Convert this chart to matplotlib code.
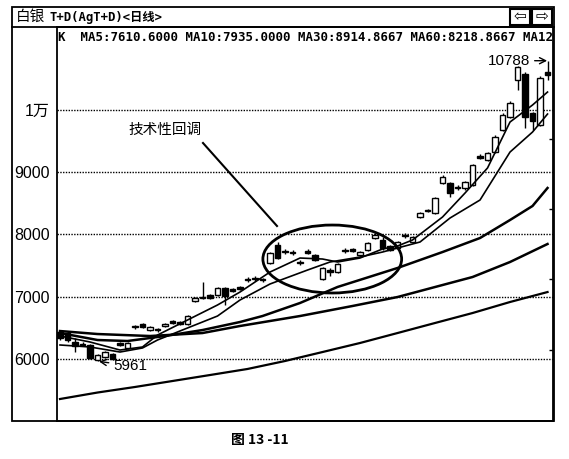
import matplotlib
matplotlib.use('Agg')
import matplotlib.pyplot as plt
from matplotlib.patches import Ellipse, Rectangle
from matplotlib.lines import Line2D

# ---------------- data ----------------
opens  = [6433, 6417, 6273, 6241, 6225, 5984, 6032, 6080, 6257, 6176,
          6514, 6562, 6465, 6465, 6530, 6610, 6594, 6562, 6931, 6979,
          7027, 7027, 7140, 7124, 7156, 7268, 7284, 7268, 7541, 7830,
          7717, 7701, 7541, 7733, 7669, 7284, 7428, 7396, 7733, 7766,
          7669, 7750, 7942, 7910, 7814, 7782, 7974, 7878, 8279, 8375,
          8343, 8825, 8825, 8744, 8744, 8793, 9258, 9194, 9322, 9675,
          9884, 10478, 10574, 9948, 9756, 10607]
highs  = [6465, 6449, 6337, 6273, 6241, 6080, 6128, 6096, 6273, 6273,
          6546, 6578, 6530, 6498, 6578, 6626, 6610, 6706, 6995, 7236,
          7043, 7156, 7156, 7140, 7172, 7316, 7332, 7300, 7717, 7878,
          7766, 7750, 7589, 7766, 7685, 7476, 7460, 7541, 7782, 7782,
          7733, 7878, 8022, 7958, 7830, 7894, 8022, 7974, 8359, 8407,
          8600, 8953, 8841, 8793, 8857, 9130, 9290, 9322, 9595, 9948,
          10141, 10703, 10606, 9964, 10542, 10788]
lows   = [6305, 6273, 6112, 6209, 6000, 5961, 6016, 5984, 6209, 6160,
          6482, 6498, 6449, 6433, 6514, 6562, 6546, 6546, 6915, 6963,
          6963, 7011, 6867, 7075, 7107, 7236, 7252, 7236, 7525, 7605,
          7685, 7669, 7509, 7685, 7573, 7268, 7332, 7380, 7701, 7717,
          7653, 7733, 7926, 7750, 7733, 7766, 7942, 7862, 8263, 8359,
          8327, 8809, 8600, 8712, 8712, 8777, 9210, 9178, 9306, 9659,
          9868, 10317, 9707, 9675, 9740, 10478]
closes = [6337, 6305, 6209, 6225, 6016, 6064, 6112, 6000, 6225, 6257,
          6530, 6514, 6514, 6482, 6562, 6578, 6562, 6690, 6979, 6995,
          6979, 7140, 7011, 7091, 7124, 7284, 7300, 7284, 7701, 7621,
          7733, 7717, 7557, 7701, 7589, 7460, 7396, 7525, 7750, 7733,
          7717, 7862, 7990, 7782, 7750, 7878, 7990, 7958, 8343, 8391,
          8584, 8921, 8664, 8760, 8841, 9114, 9226, 9306, 9563, 9916,
          10109, 10687, 9884, 9820, 10510, 10558]

ma5_idx = [0, 4, 8, 11, 13, 17, 21, 24, 28, 32, 35, 37, 40, 43, 45, 47, 51, 54, 57, 60, 63, 65]
ma5_val = [6369, 6273, 6144, 6193, 6385, 6626, 6867, 7075, 7396, 7621, 7605, 7557, 7621, 7766,
           7814, 7910, 8279, 8664, 9066, 9804, 10077, 10285]
ma10_idx = [0, 4, 8, 11, 13, 17, 21, 24, 28, 33, 36, 40, 43, 45, 48, 52, 56, 60, 63, 65]
ma10_val = [6225, 6193, 6112, 6177, 6305, 6498, 6690, 6947, 7204, 7428, 7557, 7637, 7717, 7782,
            7878, 8263, 8552, 9322, 9643, 9932]
ma30_idx = [0, 5, 9, 14, 19, 24, 27, 32, 37, 45, 51, 56, 60, 63, 65]
ma30_val = [6417, 6305, 6289, 6369, 6465, 6594, 6690, 6899, 7156, 7461, 7717, 7942, 8231, 8456, 8745]
ma60_idx = [0, 5, 12, 19, 24, 32, 39, 45, 55, 60, 65]
ma60_val = [6449, 6401, 6369, 6417, 6530, 6690, 6851, 6995, 7316, 7557, 7846]
ma120_idx = [0, 5, 10, 15, 20, 25, 30, 35, 40, 45, 50, 55, 60, 65]
ma120_val = [5358, 5462, 5551, 5647, 5743, 5840, 5968, 6112, 6257, 6417, 6578, 6738, 6915, 7075]

ytick_vals = [6000, 7000, 8000, 9000, 10000]
ytick_labels = ['6000', '7000', '8000', '9000', '1万']
right_ticks = [6144, 7284, 8408, 9531]

low_label = '5961'
high_label = '10788'
title_cn = '白银'
title_code = 'T+D(AgT+D)<日线>'
header = 'K  MA5:7610.6000 MA10:7935.0000 MA30:8914.8667 MA60:8218.8667 MA12'
note = '技术性回调'
caption = '图 13 -11'

# ---------------- figure ----------------
W, H = 569, 459
fig = plt.figure(figsize=(W / 100, H / 100), dpi=100)
fig.patch.set_facecolor('white')


def fx(x):
    return x / W


def fy(y):
    return 1 - y / H


ax = fig.add_axes([fx(57), fy(421), (553 - 57) / W, (421 - 27) / H])
ax.set_xlim(-0.4, 65.73)
ax.set_ylim(5005, 11329)
for s in ax.spines.values():
    s.set_linewidth(1.3)
    s.set_color('black')

# grid
for v in ytick_vals:
    ax.axhline(v, color='black', lw=1.0, ls=(0, (1, 1)), zorder=0)

ax.set_xticks([])
ax.set_yticks(ytick_vals)
ax.set_yticklabels(ytick_labels, fontsize=11.5, family=['Liberation Sans', 'Noto Sans CJK SC'])
ax.tick_params(axis='y', length=0, pad=5)

ax2 = ax.twinx()
ax2.set_ylim(ax.get_ylim())
ax2.set_yticks(right_ticks)
ax2.set_yticklabels([])
ax2.tick_params(axis='y', direction='in', length=3, width=1)
for s in ax2.spines.values():
    s.set_visible(False)

# candles
for i in range(len(opens)):
    o, h, l, c = opens[i], highs[i], lows[i], closes[i]
    up = c >= o
    ax.vlines(i, l, h, color='black', lw=1.0, zorder=2)
    bot = min(o, c)
    hgt = max(abs(c - o), 12)
    ax.bar(i, hgt, bottom=bot, width=0.68, facecolor='white' if up else 'black',
           edgecolor='black', lw=1.0, zorder=3)

# moving averages
ax.plot(ma5_idx, ma5_val, color='black', lw=1.2, zorder=4)
ax.plot(ma10_idx, ma10_val, color='black', lw=1.2, zorder=4)
ax.plot(ma30_idx, ma30_val, color='black', lw=1.8, zorder=4)
ax.plot(ma60_idx, ma60_val, color='black', lw=1.8, zorder=4)
ax.plot(ma120_idx, ma120_val, color='black', lw=1.6, zorder=4)

# ellipse
ax.add_patch(Ellipse((36.3, 7605), 18.5, 1091, fill=False, lw=2.0, ec='black', zorder=5))

# header row
ax.text(0.002, 0.9746, header, transform=ax.transAxes, fontsize=8.9, fontweight='bold',
        family=['DejaVu Sans Mono'], va='center', ha='left')

# annotations
imax = highs.index(max(highs))
ax.annotate(high_label, xy=(imax - 0.05, max(highs)), xytext=(-12, 0), textcoords='offset points',
            ha='right', va='center', fontsize=11, family='Liberation Sans',
            arrowprops=dict(arrowstyle='->', lw=1.0, color='black', shrinkA=1, shrinkB=0))
imin = lows.index(min(lows))
ax.annotate(low_label, xy=(imin + 0.2, min(lows)), xytext=(10, -3), textcoords='offset points',
            ha='left', va='center', fontsize=11, family='Liberation Sans',
            arrowprops=dict(arrowstyle='->', lw=1.0, color='black', shrinkA=1, shrinkB=0))

fig.text(fx(128), fy(130), note, fontsize=10.5, family='Noto Sans CJK SC', va='center', ha='left')
fig.add_artist(Line2D([fx(203), fx(277)], [fy(143), fy(226)], transform=fig.transFigure,
                      color='black', lw=1.5))

# window frame
fig.add_artist(Rectangle((fx(12), fy(421)), (554 - 12) / W, (421 - 7) / H, transform=fig.transFigure,
                         fill=False, lw=1.3, ec='black'))
fig.add_artist(Line2D([fx(12), fx(554)], [fy(27), fy(27)], transform=fig.transFigure, color='black', lw=1.3))

fig.text(fx(16), fy(17), title_cn, fontsize=10.5, family='Noto Sans CJK SC', va='center', ha='left')
fig.text(fx(50), fy(17), title_code, fontsize=8.8, fontweight='bold',
         family=['DejaVu Sans Mono', 'Noto Sans CJK SC'], va='center', ha='left')

# buttons
for (x0, x1, glyph) in [(510, 530, '⇦'), (532, 552, '⇨')]:
    fig.add_artist(Rectangle((fx(x0), fy(25)), (x1 - x0) / W, 16 / H, transform=fig.transFigure,
                             fill=False, lw=1.5, ec='black'))
    fig.text(fx((x0 + x1) / 2), fy(17), glyph, fontsize=11, family='DejaVu Sans', ha='center', va='center')

fig.text(fx(260), fy(440), caption, fontsize=10, fontweight='bold', family='Noto Sans CJK SC',
         ha='center', va='center')

fig.savefig('out.png', dpi=100, facecolor='white')
